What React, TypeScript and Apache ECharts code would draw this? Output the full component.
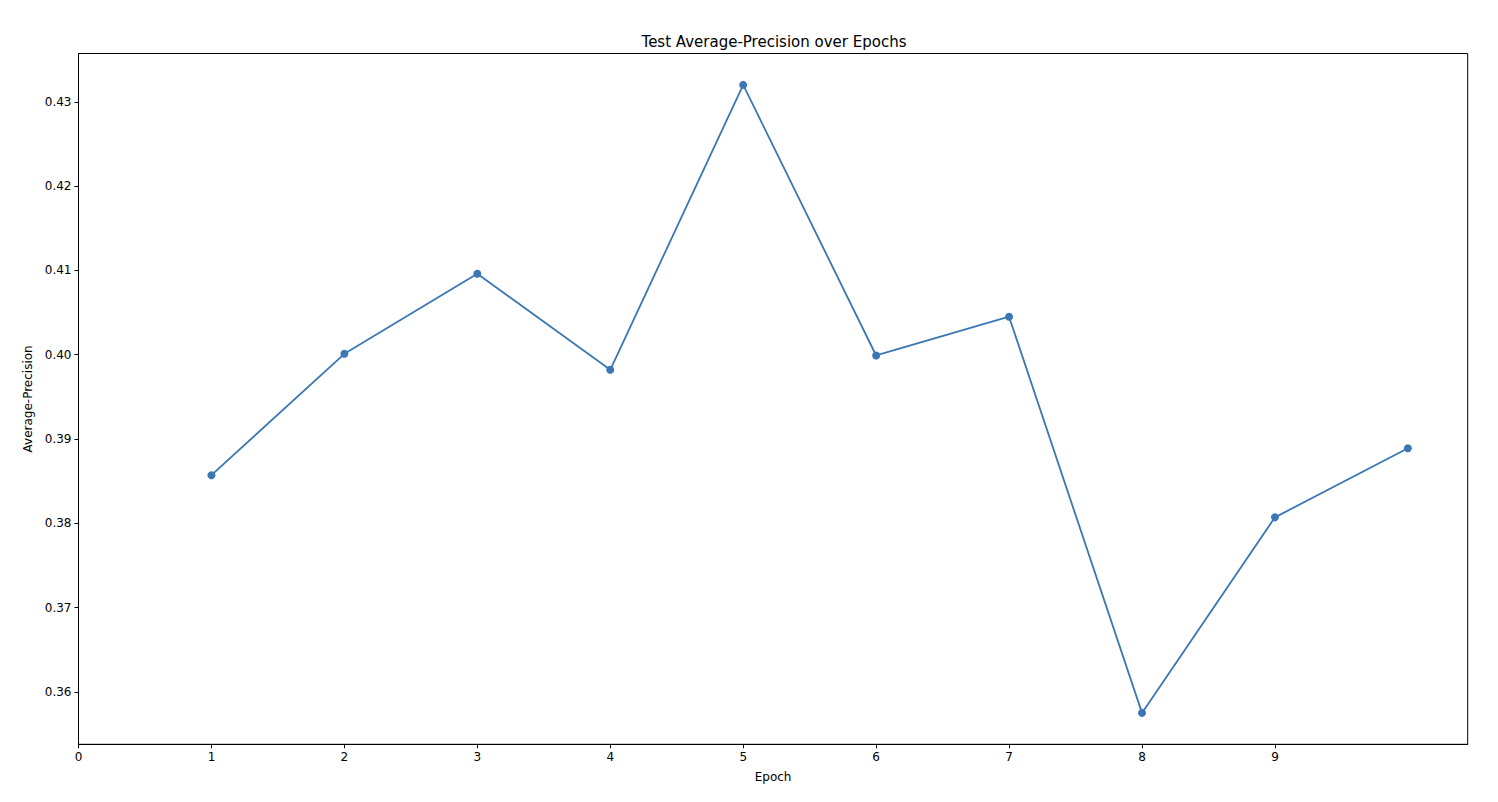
import React, { useEffect, useRef } from "react";
import * as echarts from "echarts";

const epochs = [1, 2, 3, 4, 5, 6, 7, 8, 9, 10];
const averagePrecision = [0.3857, 0.4001, 0.4096, 0.3982, 0.4320, 0.3999, 0.4045, 0.3575, 0.3807, 0.3889];
const xTicks = [0, 1, 2, 3, 4, 5, 6, 7, 8, 9];
const yTicks = [0.36, 0.37, 0.38, 0.39, 0.40, 0.41, 0.42, 0.43];

const FONT = "DejaVu Sans";

export default function App() {
  const ref = useRef<HTMLDivElement>(null);
  useEffect(() => {
    if (!ref.current) return;
    const chart = echarts.init(ref.current, undefined, { renderer: "svg" });
    chart.setOption({
      animation: false,
      backgroundColor: "#ffffff",
      title: {
        text: "Test Average-Precision over Epochs",
        left: 769,
        textAlign: "center",
        top: 29,
        textStyle: { fontFamily: FONT, fontSize: 15, fontWeight: "normal", color: "#000" },
      },
      grid: {
        left: 78.5,
        right: 30.3,
        top: 53.5,
        bottom: 57.7,
        show: true,
        borderColor: "#000",
        borderWidth: 1,
        backgroundColor: "transparent",
      },
      xAxis: {
        type: "value",
        min: 0,
        max: 10.45,
        interval: 1,
        name: "Epoch",
        nameLocation: "middle",
        nameGap: 27,
        nameTextStyle: { fontFamily: FONT, fontSize: 12, color: "#000" },
        splitLine: { show: false },
        axisLine: { show: true, lineStyle: { color: "#000", width: 1 } },
        axisTick: { show: true, inside: false, length: 4, lineStyle: { color: "#000" }, customValues: xTicks },
        axisLabel: {
          fontFamily: FONT,
          fontSize: 12,
          color: "#000",
          margin: 7,
          customValues: xTicks,
          formatter: (v: number) => String(v),
        },
      },
      yAxis: {
        type: "value",
        min: 0.353775,
        max: 0.435725,
        name: "Average-Precision",
        nameLocation: "middle",
        nameGap: 44,
        nameRotate: 90,
        nameTextStyle: { fontFamily: FONT, fontSize: 12, color: "#000" },
        splitLine: { show: false },
        axisLine: { show: true, lineStyle: { color: "#000", width: 1 } },
        axisTick: { show: true, inside: false, length: 4, lineStyle: { color: "#000" }, customValues: yTicks },
        axisLabel: {
          fontFamily: FONT,
          fontSize: 12,
          color: "#000",
          margin: 7,
          customValues: yTicks,
          formatter: (v: number) => v.toFixed(2),
        },
      },
      series: [
        {
          type: "line",
          data: epochs.map((e, i) => [e, averagePrecision[i]]),
          symbol: "circle",
          symbolSize: 8,
          showAllSymbol: true,
          lineStyle: { color: "#3a77b3", width: 1.8 },
          itemStyle: { color: "#3a77b3" },
          emphasis: { disabled: true },
        },
      ],
    });
    return () => chart.dispose();
  }, []);
  return (
    <div
      ref={ref}
      style={{ position: "fixed", left: 0, top: 0, width: 1498, height: 802 }}
    />
  );
}
